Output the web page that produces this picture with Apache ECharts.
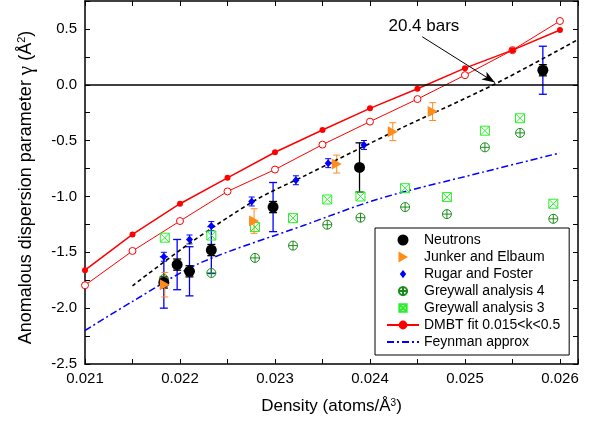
<!DOCTYPE html>
<html><head><meta charset="utf-8">
<script src="https://cdn.jsdelivr.net/npm/echarts@6/dist/echarts.min.js"></script>
<style>html,body{margin:0;padding:0;background:#fff}#c{width:609px;height:425px}</style>
</head><body><div id="c"></div>
<script>
// ---- data ----
const xTicks = [0.021, 0.022, 0.023, 0.024, 0.025, 0.026];
const yTicks = [-2.5, -2.0, -1.5, -1.0, -0.5, 0.0, 0.5];

const dmbtX = [0.021, 0.0215, 0.022, 0.0225, 0.023, 0.0235, 0.024, 0.0245, 0.025, 0.0255, 0.026];
const dmbtFilledY = [-1.66, -1.34, -1.065, -0.833, -0.604, -0.405, -0.211, -0.036, 0.149, 0.31, 0.49];
const dmbtHollowY = [-1.795, -1.488, -1.22, -0.955, -0.759, -0.536, -0.330, -0.128, 0.086, 0.31, 0.571];

const feynX = [0.021, 0.0215, 0.0222, 0.0233, 0.0241, 0.0252, 0.026];
const feynY = [-2.20, -1.94, -1.60, -1.26, -1.02, -0.78, -0.61];

const fitX = [0.0215, 0.0221, 0.0228, 0.0233, 0.0243, 0.0253, 0.02618];
const fitY = [-1.80, -1.42, -1.03, -0.82, -0.40, 0.0, 0.40];

const neutronX = [0.02183, 0.02197, 0.02210, 0.02233, 0.02298, 0.02389, 0.02582];
const neutronY = [-1.77, -1.61, -1.67, -1.48, -1.095, -0.74, 0.13];
const neutronErrBlue = [0.23, 0.225, 0.22, 0.21, 0.22, 0, 0.215];
const neutronErrBlack = [0.05, 0.05, 0.05, 0.05, 0.05, 0.22, 0.05];

const junkerX = [0.02184, 0.02278, 0.02365, 0.02424, 0.02466];
const junkerY = [-1.79, -1.22, -0.71, -0.42, -0.24];
const junkerErr = [0.11, 0.11, 0.08, 0.08, 0.08];

const rugarX = [0.02183, 0.0221, 0.02233, 0.022755, 0.02322, 0.02356, 0.023937];
const rugarY = [-1.54, -1.385, -1.265, -1.045, -0.855, -0.702, -0.539];
const rugarErr = [0.04, 0.04, 0.04, 0.04, 0.04, 0.04, 0.04];

const grey4X = [0.02183, 0.02233, 0.02279, 0.02319, 0.02355, 0.0239, 0.02437, 0.02481, 0.02521, 0.02558, 0.02593];
const grey4Y = [-1.74, -1.685, -1.55, -1.44, -1.253, -1.19, -1.095, -1.158, -0.56, -0.431, -1.20];
const grey3X = [0.02184, 0.02233, 0.02279, 0.02319, 0.02355, 0.0239, 0.02437, 0.02481, 0.02521, 0.02558, 0.02593];
const grey3Y = [-1.369, -1.35, -1.274, -1.194, -1.027, -1.0, -0.926, -1.006, -0.411, -0.30, -1.065];

const arrowStart = [0.02455, 0.43];
const arrowEnd = [0.025316, 0.02];
const annotPos = [0.024568, 0.527];
const annotText = '20.4 bars';

// ---- chart ----
const FONT = 'Liberation Sans, Arial, sans-serif';
const zip = (xs, ys) => xs.map((x, i) => [x, ys[i]]);
const zip3 = (xs, ys, es) => xs.map((x, i) => [x, ys[i], es[i]]).filter(d => d[2] > 0);

function errSeries(id, xs, ys, es, color, capW, lw) {
  return {
    type: 'custom', id: id, silent: true, z: 2,
    data: zip3(xs, ys, es),
    encode: { x: 0, y: 1 },
    renderItem: function (params, api) {
      const x = api.value(0), y = api.value(1), e = api.value(2);
      const t = api.coord([x, y + e]), b = api.coord([x, y - e]);
      const st = { stroke: color, lineWidth: lw, fill: null };
      return { type: 'group', children: [
        { type: 'line', shape: { x1: t[0], y1: t[1], x2: b[0], y2: b[1] }, style: st },
        { type: 'line', shape: { x1: t[0] - capW, y1: t[1], x2: t[0] + capW, y2: t[1] }, style: st },
        { type: 'line', shape: { x1: b[0] - capW, y1: b[1], x2: b[0] + capW, y2: b[1] }, style: st }
      ] };
    }
  };
}

const circlePlus = 'path://M0,-10 A10,10 0 1,1 0,10 A10,10 0 1,1 0,-10 Z M-10,0 L10,0 M0,-10 L0,10';
const squareX = 'path://M-10,-10 L10,-10 L10,10 L-10,10 Z M-10,-10 L10,10 M10,-10 L-10,10';
const triRight = 'path://M0,0 L9,5.5 L0,11 Z';
// legend icons with padding (extra move points enlarge the box so the glyph draws smaller)
const circlePlusLeg = 'path://M-12,-12 M12,12 M0,-9 A9,9 0 1,1 0,9 A9,9 0 1,1 0,-9 Z M-9,0 L9,0 M0,-9 L0,9';
const squareXLeg = 'path://M-12,-12 M12,12 M-8,-8 L8,-8 L8,8 L-8,8 Z M-8,-8 L8,8 M8,-8 L-8,8';
const diamondLeg = 'path://M-6,-6 M6,6 M0,-4.5 L3.5,0 L0,4.5 L-3.5,0 Z';
const triLeg = 'path://M-5.5,-5.5 M5.5,5.5 M-4.5,-5.5 L5,0 L-4.5,5.5 Z';

const xMin = 0.021, xMax = 0.02619, yMin = -2.5, yMax = 0.75;
const isTick = (v, arr) => arr.some(t => Math.abs(t - v) < 1e-9);

const axisCommon = {
  axisLine: { show: true, onZero: false, lineStyle: { color: '#000', width: 1.5 } },
  axisTick: { show: true, inside: true, length: 5, lineStyle: { color: '#000', width: 1 } },
  minorTick: { show: true, splitNumber: 2, length: 5, lineStyle: { color: '#000', width: 1 } },
  splitLine: { show: false },
};

const option = {
  animation: false,
  backgroundColor: '#fff',
  textStyle: { fontFamily: FONT },
  grid: { left: 85, right: 31, top: 1, bottom: 61 },
  xAxis: [
    Object.assign({}, axisCommon, {
      type: 'value', min: xMin, max: xMax, interval: 0.001, position: 'bottom',
      axisLabel: { show: true, margin: 7, color: '#000', fontSize: 15, fontFamily: FONT,
        formatter: v => isTick(v, xTicks) ? v.toFixed(3) : '' },
      name: 'Density (atoms/Å{s|3})', nameLocation: 'middle', nameGap: 34,
      nameTextStyle: { color: '#000', fontSize: 17, fontFamily: FONT,
        rich: { s: { fontSize: 10, verticalAlign: 'top', color: '#000', fontFamily: FONT } } }
    }),
    Object.assign({}, axisCommon, {
      type: 'value', min: xMin, max: xMax, interval: 0.001, position: 'top', axisLabel: { show: false }
    })
  ],
  yAxis: [
    Object.assign({}, axisCommon, {
      type: 'value', min: yMin, max: yMax, interval: 0.5, position: 'left',
      axisLabel: { show: true, margin: 8, color: '#000', fontSize: 15, fontFamily: FONT,
        formatter: v => isTick(v, yTicks) ? v.toFixed(1) : '' },
      name: 'Anomalous dispersion parameter {g|γ} (Å{s|2})', nameLocation: 'middle', nameGap: 48, nameRotate: 90,
      nameTextStyle: { color: '#000', fontSize: 18, fontFamily: FONT, padding: [0, 10, 0, 0],
        rich: { g: { fontSize: 21, fontFamily: 'Liberation Serif, serif', color: '#000' },
                s: { fontSize: 11, verticalAlign: 'top', color: '#000', fontFamily: FONT } } }
    }),
    Object.assign({}, axisCommon, {
      type: 'value', min: yMin, max: yMax, interval: 0.5, position: 'right', axisLabel: { show: false }
    })
  ],
  legend: {
    orient: 'vertical', left: 375, top: 228,
    data: [
      { name: 'Neutrons' },
      { name: 'Junker and Elbaum', icon: triLeg },
      { name: 'Rugar and Foster', icon: diamondLeg },
      { name: 'Greywall analysis 4', icon: circlePlusLeg },
      { name: 'Greywall analysis 3', icon: squareXLeg },
      { name: 'DMBT fit 0.015<k<0.5' },
      { name: 'Feynman approx', itemStyle: { opacity: 0 } }
    ],
    itemWidth: 32, itemHeight: 11, itemGap: 3,
    padding: [5, 9, 6, 11],
    borderColor: '#000', borderWidth: 1, backgroundColor: '#fff',
    textStyle: { color: '#000', fontSize: 14, fontFamily: FONT },
    selectedMode: false
  },
  series: [
    {
      type: 'line', id: 'hollow', data: zip(dmbtX, dmbtHollowY), z: 3,
      symbol: 'circle', symbolSize: 7, showSymbol: true,
      lineStyle: { color: '#ff0000', width: 1 },
      itemStyle: { color: '#fff', borderColor: '#ff0000', borderWidth: 1 }
    },
    {
      type: 'line', name: 'DMBT fit 0.015<k<0.5', data: zip(dmbtX, dmbtFilledY), z: 4,
      symbol: 'circle', symbolSize: 6,
      lineStyle: { color: '#ff0000', width: 1.5 },
      itemStyle: { color: '#ff0000' },
      markLine: { silent: true, symbol: 'none', label: { show: false },
        lineStyle: { color: '#000', width: 1.5, type: 'solid' }, data: [{ yAxis: 0 }] }
    },
    {
      type: 'line', name: 'Feynman approx', data: zip(feynX, feynY), smooth: 0.3, showSymbol: false, symbol: 'none', z: 3,
      lineStyle: { color: '#0000ff', width: 1.5, type: [7, 3, 2, 3] },
      itemStyle: { color: '#0000ff' }
    },
    {
      type: 'line', id: 'fit', data: zip(fitX, fitY), smooth: 0.3, showSymbol: false, symbol: 'none', z: 3,
      lineStyle: { color: '#000', width: 1.6, type: [4, 3] },
      markLine: { silent: true, symbol: ['none', 'arrow'], symbolSize: 10, label: { show: false },
        lineStyle: { color: '#000', width: 1, type: 'solid' },
        data: [[{ coord: arrowStart, symbol: 'none' }, { coord: arrowEnd, symbol: 'arrow', symbolSize: [7, 13] }]] },
      markPoint: { silent: true, symbol: 'circle', symbolSize: 0,
        data: [{ coord: annotPos, label: { show: true, formatter: annotText, position: 'inside', color: '#000', fontSize: 17, fontFamily: FONT } }] }
    },
    errSeries('eNeutronBlue', neutronX, neutronY, neutronErrBlue, '#0000ff', 4, 1.3),
    errSeries('eNeutronBlack', neutronX, neutronY, neutronErrBlack, '#000', 4, 1.3),
    errSeries('eJunker', junkerX, junkerY, junkerErr, '#ff8c1a', 3.5, 1),
    errSeries('eRugar', rugarX, rugarY, rugarErr, '#0000ff', 3, 1),
    {
      type: 'scatter', name: 'Greywall analysis 4', data: zip(grey4X, grey4Y), z: 5,
      symbol: circlePlus, symbolSize: 9,
      itemStyle: { color: 'rgba(0,0,0,0)', borderColor: '#1a8c1a', borderWidth: 1, opacity: 1 }
    },
    {
      type: 'scatter', name: 'Greywall analysis 3', data: zip(grey3X, grey3Y), z: 5,
      symbol: squareX, symbolSize: 9,
      itemStyle: { color: 'rgba(0,0,0,0)', borderColor: '#2af02a', borderWidth: 1, opacity: 1 }
    },
    {
      type: 'scatter', name: 'Neutrons', data: zip(neutronX, neutronY), z: 6,
      symbol: 'circle', symbolSize: 11, itemStyle: { color: '#000', opacity: 1 }
    },
    {
      type: 'scatter', name: 'Junker and Elbaum', data: zip(junkerX, junkerY), z: 6,
      symbol: triRight, symbolSize: [10, 11], itemStyle: { color: '#ff8c1a', opacity: 1 }
    },
    {
      type: 'scatter', name: 'Rugar and Foster', data: zip(rugarX, rugarY), z: 6,
      symbol: 'diamond', symbolSize: [7, 8], itemStyle: { color: '#0000ff', opacity: 1 }
    }
  ]
};

const chart = echarts.init(document.getElementById('c'), null, { renderer: 'canvas' });
chart.setOption(option);
</script>
</body></html>
